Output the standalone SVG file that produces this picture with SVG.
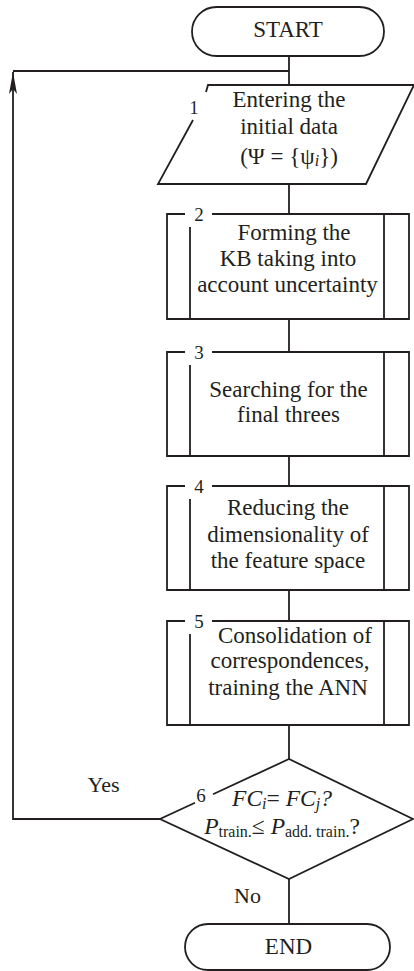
<svg xmlns="http://www.w3.org/2000/svg" width="414" height="971" viewBox="0 0 414 971" font-family="'Liberation Serif', 'DejaVu Serif', serif">
<style>
.s{fill:none;stroke:#231f20;stroke-width:1.8;stroke-linejoin:miter}
text{font-family:'Liberation Serif','DejaVu Serif',serif;fill:#231f20}
.t{font-size:23px;text-anchor:middle}
.n{font-size:19px;text-anchor:middle}
.m{font-size:23.5px;font-style:italic;text-anchor:middle}
.sub{font-size:16px}
</style>
<defs>
<marker id="arr" viewBox="0 0 22 8" refX="22" refY="4" markerWidth="22" markerHeight="8" markerUnits="userSpaceOnUse" orient="auto">
<path d="M0,0 L22,4 L0,8 L5,4 Z" fill="#231f20"/>
</marker>
</defs>
<rect width="414" height="971" fill="#fff"/>
<g id="connectors">
<path class="s" d="M289,56 V85"/>
<path class="s" d="M13,71 H289"/>
<path class="s" d="M289,184 V214"/>
<path class="s" d="M289,319 V352"/>
<path class="s" d="M289,456 V486"/>
<path class="s" d="M289,590 V621"/>
<path class="s" d="M289,725 V759"/>
<path class="s" d="M289,879 V924"/>
<path class="s" d="M160,819 H13 V72" marker-end="url(#arr)"/>
<text x="103.5" y="792" class="t" style="font-size:22px">Yes</text>
<text x="247.5" y="903" class="t" style="font-size:22px">No</text>
</g>
<g id="start">
<rect class="s" x="192" y="7" width="192" height="49" rx="24.5" ry="24.5"/>
<text x="288" y="37" class="t">START</text>
</g>
<g id="n1">
<path class="s" d="M206,92 L208,85 H414"/>
<path class="s" d="M193,120 L158,184 H366 L414,85"/>
<text x="194" y="114" class="n" style="font-size:18px">1</text>
<text x="289" y="107" class="t">Entering the</text>
<text x="289" y="134" class="t">initial data</text>
<text x="289" y="164" class="t">(Ψ = {ψ<tspan font-style="italic" class="sub" dy="2">i</tspan><tspan dy="-2">})</tspan></text>
</g>
<g id="n2">
<path class="s" d="M185,214 H167 V319 H409 V214 H212"/>
<path class="s" d="M190,227 V319 M384,214 V319"/>
<text x="199" y="221" class="n">2</text>
<text x="294" y="240" class="t">Forming the</text>
<text x="288" y="266" class="t">KB taking into</text>
<text x="287.5" y="292" class="t">account uncertainty</text>
</g>
<g id="n3">
<path class="s" d="M185,352 H167 V456 H409 V352 H212"/>
<path class="s" d="M190,365 V456 M384,352 V456"/>
<text x="199" y="359" class="n">3</text>
<text x="288.5" y="397" class="t">Searching for the</text>
<text x="288.5" y="422" class="t">final threes</text>
</g>
<g id="n4">
<path class="s" d="M185,486 H167 V590 H409 V486 H212"/>
<path class="s" d="M190,499 V590 M384,486 V590"/>
<text x="199" y="493" class="n">4</text>
<text x="288" y="515" class="t">Reducing the</text>
<text x="288" y="542" class="t">dimensionality of</text>
<text x="288" y="568" class="t">the feature space</text>
</g>
<g id="n5">
<path class="s" d="M185,621 H167 V725 H409 V621 H212"/>
<path class="s" d="M190,634 V725 M384,621 V725"/>
<text x="199" y="628" class="n">5</text>
<text x="295" y="643" class="t">Consolidation of</text>
<text x="290" y="668" class="t">correspondences,</text>
<text x="288" y="695" class="t">training the ANN</text>
</g>
<g id="n6">
<path class="s" d="M195,802.7 L160,819 L289,879 L413,819 L289,759 L213,794.3"/>
<text x="201" y="802" class="n">6</text>
<text x="282" y="806" class="m">FC<tspan class="sub" dy="3">i</tspan><tspan dy="-3" font-style="normal">= </tspan>FC<tspan class="sub" dy="3">j</tspan><tspan dy="-3">?</tspan></text>
<text x="282" y="834" class="m">P<tspan class="sub" font-style="normal" dy="3">train.</tspan><tspan font-style="normal" dy="-3">≤ </tspan>P<tspan class="sub" font-style="normal" dy="3">add. train.</tspan><tspan font-style="normal" dy="-3">?</tspan></text>
</g>
<g id="end">
<rect class="s" x="185" y="924" width="205" height="46" rx="23" ry="23"/>
<text x="288.5" y="954" class="t">END</text>
</g>
</svg>
